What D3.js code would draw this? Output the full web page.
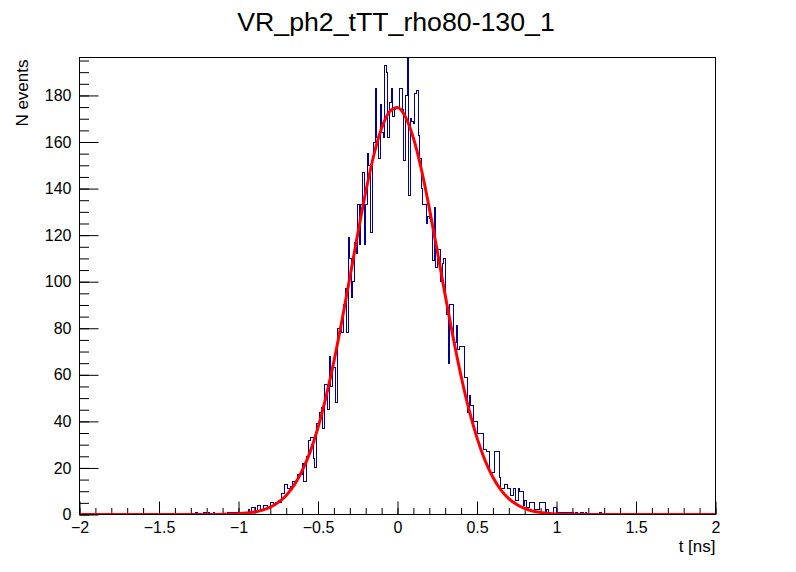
<!DOCTYPE html>
<html lang="en">
    <head>
        <meta charset="UTF-8">
        <script src="https://cdn.jsdelivr.net/npm/d3@7"></script>
        <title>VR_ph2_tTT_rho80-130_1</title>
        <style>
            body { margin: 0; background: #fff; }
            svg text { font-family: "Liberation Sans", Arial, sans-serif; fill: #000; }
            .axis .tick line { stroke: #000; stroke-width: 1; }
            .axis path.domain { display: none; }
        </style>
    </head>
    <body>
        <div id="canvas"></div>

        <script>
            // histogram: 400 bins between -2 and 2 ns
            var xMin = -2, xMax = 2, nBins = 400;
            var yMax = 196.3;

            var counts = [
                0,0,0,0,0,0,0,0,0,0,
                0,0,0,0,0,0,0,0,0,0,
                0,0,0,0,0,0,0,0,0,0,
                0,0,0,0,0,0,0,0,0,0,
                0,0,0,0,0,0,0,0,0,0,
                0,0,0,0,0,0,0,0,0,0,
                0,0,0,0,0,0,0,0,0,0,
                0,0,0,1,0,0,0,0,1,1,
                0,1,0,0,1,0,0,0,0,0,
                0,0,0,1,1,1,1,1,1,1,
                0,0,0,0,1,1,2,1,3,3,
                3,1,4,4,2,2,4,4,3,3,
                5,5,4,5,5,6,5,9,9,13,
                13,11,11,12,14,14,14,17,17,17,
                22,14,14,25,32,33,33,24,20,39,
                39,44,46,37,56,56,45,68,55,63,
                63,48,80,80,80,78,90,97,78,119,
                110,93,100,117,112,133,116,133,147,116,
                133,155,150,121,153,160,183,162,153,176,
                164,162,193,190,162,177,183,171,174,175,
                175,183,183,174,152,180,199,137,170,169,
                168,181,182,163,153,140,133,133,125,128,
                127,126,109,132,106,114,114,100,108,110,
                91,86,65,90,90,74,74,81,71,72,
                72,72,59,59,44,51,47,47,40,40,
                35,35,35,35,28,28,27,27,18,18,
                18,27,27,27,16,11,11,13,13,11,
                11,8,8,11,6,6,11,10,10,4,
                6,3,3,5,5,5,2,2,2,5,
                5,5,5,1,2,1,0,0,3,3,
                1,1,1,1,1,1,1,1,1,1,
                1,0,1,0,0,1,1,0,1,0,
                0,0,0,0,0,0,0,1,0,0,
                0,0,0,0,0,0,0,0,0,0,
                0,0,0,0,0,0,0,0,0,0,
                0,0,0,0,0,0,0,0,0,0,
                0,0,0,0,0,0,0,0,0,0,
                0,0,0,0,0,0,0,0,0,0,
                0,0,0,0,0,0,0,0,0,0,
                0,0,0,0,0,0,0,0,0,0
            ];

            // gaussian fit
            var fitX = [-2, -1.2, -1.15, -1.1, -1.05, -1, -0.95, -0.9, -0.85, -0.8, -0.75, -0.7, -0.65,
                        -0.6, -0.55, -0.5, -0.45, -0.4, -0.35, -0.3, -0.25, -0.2, -0.15, -0.1, -0.05,
                        0, 0.05, 0.1, 0.15, 0.2, 0.25, 0.3, 0.35, 0.4, 0.45, 0.5, 0.55, 0.6, 0.65,
                        0.7, 0.75, 0.8, 0.85, 0.9, 0.95, 1, 1.05, 1.1, 1.15, 1.2, 2];
            var fitY = [0, 0.01, 0.04, 0.08, 0.17, 0.32, 0.6, 1.07, 1.9, 3.2, 5.2, 8.2, 12.6,
                        18.7, 26.8, 37.3, 50.4, 65.7, 83.1, 101.7, 120.6, 138.5, 154.1, 165.9, 173,
                        174.8, 170.8, 161.7, 148.3, 131.6, 113.2, 94.2, 76, 59.4, 44.9, 32.9, 23.3, 16, 10.6,
                        6.8, 4.3, 2.6, 1.5, 0.86, 0.47, 0.25, 0.13, 0.06, 0.03, 0.01, 0];

            var xMajorTicks = [-2, -1.5, -1, -0.5, 0, 0.5, 1, 1.5, 2];
            var yMajorTicks = [0, 20, 40, 60, 80, 100, 120, 140, 160, 180];

            var W = 796, H = 572;
            // frame edges (avoid the name "top", it is window.top)
            var fLeft = 79.5, fRight = 715.5, fTop = 57.5, fBottom = 514.5;

            var svg = d3.select("#canvas").append("svg")
                    .attr("width", W)
                    .attr("height", H);

            var x = d3.scaleLinear().domain([xMin, xMax]).range([fLeft, fRight]);
            var y = d3.scaleLinear().domain([0, yMax]).range([fBottom, fTop]);

            var binW = (xMax - xMin) / nBins;
            var xMinor = d3.range(0, 41).map(function (i) { return +(xMin + i * 0.1).toFixed(2); });
            var yMinor = d3.range(0, 40).map(function (i) { return i * 5; });

            svg.append("defs").append("clipPath").attr("id", "frame")
                    .append("rect")
                    .attr("x", fLeft).attr("y", fTop)
                    .attr("width", fRight - fLeft).attr("height", fBottom - fTop);

            // x axis, ticks pointing into the frame
            svg.append("g").classed("axis", true)
                    .attr("transform", "translate(0," + fBottom + ")")
                    .call(d3.axisBottom(x).tickValues(xMinor).tickSize(-6.5).tickFormat(""));
            var gx = svg.append("g").classed("axis", true)
                    .attr("transform", "translate(0," + fBottom + ")")
                    .call(d3.axisBottom(x).tickValues(xMajorTicks).tickSize(-13).tickPadding(7)
                          .tickFormat(d3.format("")));
            gx.selectAll("text").style("font-size", "16px");

            // y axis
            svg.append("g").classed("axis", true)
                    .attr("transform", "translate(" + fLeft + ",0)")
                    .call(d3.axisLeft(y).tickValues(yMinor).tickSize(-9.5).tickFormat(""));
            var gy = svg.append("g").classed("axis", true)
                    .attr("transform", "translate(" + fLeft + ",0)")
                    .call(d3.axisLeft(y).tickValues(yMajorTicks).tickSize(-19).tickPadding(8));
            gy.selectAll("text").style("font-size", "16px");

            // histogram outline
            var pts = counts.map(function (c, i) { return [xMin + i * binW, c]; });
            pts.push([xMax, counts[nBins - 1]]);
            var histLine = d3.line()
                    .x(function (d) { return x(d[0]); })
                    .y(function (d) { return y(d[1]); })
                    .curve(d3.curveStepAfter);

            svg.append("path")
                    .datum(pts)
                    .attr("clip-path", "url(#frame)")
                    .attr("d", histLine)
                    .attr("fill", "none")
                    .attr("stroke", "#000099")
                    .attr("stroke-width", 1)
                    .attr("shape-rendering", "crispEdges");

            // fit curve
            var fitLine = d3.line()
                    .x(function (d, i) { return x(fitX[i]); })
                    .y(function (d) { return y(d); })
                    .curve(d3.curveMonotoneX);

            svg.append("path")
                    .datum(fitY)
                    .attr("clip-path", "url(#frame)")
                    .attr("d", fitLine)
                    .attr("fill", "none")
                    .attr("stroke", "#ff0000")
                    .attr("stroke-width", 3);

            // frame
            svg.append("rect")
                    .attr("x", fLeft).attr("y", fTop)
                    .attr("width", fRight - fLeft).attr("height", fBottom - fTop)
                    .attr("fill", "none")
                    .attr("stroke", "#000")
                    .attr("stroke-width", 1);

            // titles
            svg.append("text")
                    .attr("x", 396).attr("y", 31)
                    .attr("text-anchor", "middle")
                    .style("font-size", "26.7px")
                    .text("VR_ph2_tTT_rho80-130_1");

            svg.append("text")
                    .attr("x", fRight).attr("y", 552)
                    .attr("text-anchor", "end")
                    .style("font-size", "17px")
                    .text("t [ns]");

            svg.append("text")
                    .attr("transform", "translate(28," + (fTop + 2) + ") rotate(-90)")
                    .attr("text-anchor", "end")
                    .style("font-size", "17px")
                    .text("N events");
        </script>
    </body>
</html>
